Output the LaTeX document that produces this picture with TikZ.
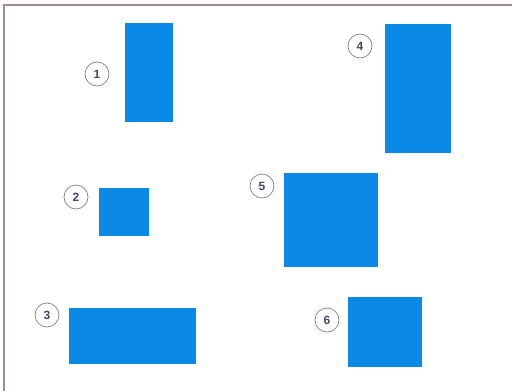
\documentclass[tikz,border=0pt]{standalone}
\usepackage{xcolor}
\usepackage{tikz}
\usepackage{fontspec}
\setmainfont{Liberation Sans}
\definecolor{blu}{HTML}{0A8AE6}
\definecolor{cornice}{HTML}{9C8C9E}
\definecolor{grigio}{HTML}{3E4A64}

\begin{document}
\begin{tikzpicture}[x=1pt, y=-1pt,
            ret/.style={fill=blu, draw=none, inner sep=0pt},
            num/.style={circle, draw=gray, line width=0.7pt, text=grigio,
                    minimum size=24pt, inner sep=0pt,
                    font=\fontsize{12}{14}\selectfont\bfseries}
        ]
        \useasboundingbox (0, 0) rectangle (512, 391);
        % Cornice in alto e a sinistra
        \draw[cornice, line width=1.5pt] (4, 391) -- (4, 5) -- (512, 5);

        \node[ret, minimum width=48pt,  minimum height=99pt]  (ret1) at (149, 72.5) {};
        \node[ret, minimum width=50pt,  minimum height=48pt]  (ret2) at (124, 212)  {};
        \node[ret, minimum width=127pt, minimum height=56pt]  (ret3) at (132.5, 336) {};
        \node[ret, minimum width=66pt,  minimum height=129pt] (ret4) at (418, 88.5) {};
        \node[ret, minimum width=94pt,  minimum height=94pt]  (ret5) at (331, 220)  {};
        \node[ret, minimum width=74pt,  minimum height=70pt]  (ret6) at (385, 332)  {};

        \node[num] (num1) at (97, 74)   {1};
        \node[num] (num2) at (76, 197)  {2};
        \node[num] (num3) at (47, 315)  {3};
        \node[num] (num4) at (360, 46)  {4};
        \node[num] (num5) at (262, 186) {5};
        \node[num] (num6) at (327, 320) {6};
    \end{tikzpicture}
\end{document}
